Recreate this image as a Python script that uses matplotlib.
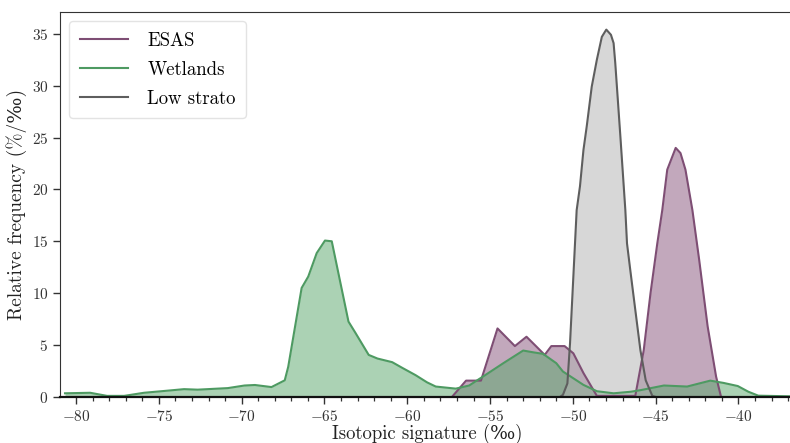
import matplotlib
matplotlib.use("Agg")
from matplotlib import pyplot as plt
from matplotlib.ticker import MultipleLocator

# ESAS distribution
esas_x = [-57.3, -56.45, -55.55, -54.55, -53.5, -52.8, -52.2, -51.7, -51.3, -50.5,
          -49.97, -49.36, -48.55, -46.23, -45.72, -45.31, -44.9, -44.6, -44.3,
          -43.79, -43.5, -43.2, -42.78, -42.37, -41.86, -41.35, -41.05]
esas_y = [0.0, 1.57, 1.57, 6.6, 4.9, 5.8, 4.85, 4.05, 4.9, 4.9,
          4.2, 2.3, 0.1, 0.1, 4.5, 10.0, 14.8, 18.0, 21.9,
          24.0, 23.5, 21.9, 18.0, 13.2, 6.8, 1.96, 0.0]

# Wetlands distribution
wet_x = [-80.67, -79.15, -78.13, -77.1, -75.9, -74.5, -73.48, -72.66, -70.84, -69.83,
         -69.2, -68.2, -67.4, -67.19, -66.38, -65.98, -65.47, -64.97, -64.56, -63.55,
         -63.14, -62.33, -61.8, -60.91, -60.3, -59.5, -58.8, -58.28, -57.07, -56.26,
         -55.2, -54.2, -53.0, -52.4, -51.8, -51.0, -50.6, -49.36, -48.55, -47.54,
         -46.5, -45.92, -44.5, -43.1, -41.7, -40.9, -40.04, -39.4, -38.8, -36.6]
wet_y = [0.35, 0.4, 0.1, 0.1, 0.4, 0.6, 0.75, 0.7, 0.85, 1.1,
         1.15, 0.95, 1.6, 2.9, 10.5, 11.6, 13.86, 15.07, 15.0, 7.26,
         6.2, 4.05, 3.7, 3.35, 2.8, 2.1, 1.4, 1.0, 0.8, 1.1,
         2.2, 3.25, 4.47, 4.3, 4.15, 3.25, 2.45, 1.16, 0.55, 0.35,
         0.5, 0.65, 1.1, 1.0, 1.57, 1.35, 1.05, 0.5, 0.12, 0.05]

# Low stratosphere distribution
strato_x = [-50.78, -50.6, -50.33, -50.17, -49.97, -49.77, -49.57, -49.36, -49.16,
            -48.86, -48.55, -48.25, -47.98, -47.7, -47.54, -47.44, -47.13, -46.83, -46.73,
            -46.53, -46.23, -45.92, -45.6, -45.2, -45.0]
strato_y = [0.0, 0.2, 1.3, 5.2, 11.6, 18.0, 20.3, 23.8, 26.1,
            29.9, 32.5, 34.7, 35.4, 34.9, 34.1, 32.2, 25.1, 18.0, 14.8,
            12.2, 8.4, 4.5, 1.6, 0.1, 0.0]

series = [
    ("ESAS", esas_x, esas_y, "#7e4e74", "#87537b"),
    ("Wetlands", wet_x, wet_y, "#4e9a62", "#59a76b"),
    ("Low strato", strato_x, strato_y, "#5e5e5e", "#b1b1b1"),
]

plt.rcParams["font.family"] = ["cmr10", "DejaVu Serif"]
plt.rcParams["mathtext.fontset"] = "cm"
plt.rcParams["axes.formatter.use_mathtext"] = True
plt.rcParams["axes.unicode_minus"] = True

fig = plt.figure(figsize=(7.9, 4.43), dpi=100)
ax = fig.add_axes([0.076, 0.104, 0.93, 0.869])

for name, xs, ys, lc, fc in series:
    ax.fill_between(xs, ys, color=fc, alpha=0.5, linewidth=0)
    ax.plot(xs, ys, color=lc, linewidth=1.5, label=name)

ax.set_xlim(-80.97, -36.6)
ax.set_ylim(0, 37.1)
ax.xaxis.set_major_locator(MultipleLocator(5))
ax.xaxis.set_minor_locator(MultipleLocator(1))
ax.yaxis.set_major_locator(MultipleLocator(5))
ax.tick_params(axis="both", which="major", direction="out", length=5, width=1,
               labelsize=11, colors="#333333")
ax.tick_params(axis="x", which="minor", direction="out", length=3, width=0.9,
               colors="#333333")
ax.spines["right"].set_visible(False)
for s in ["left", "bottom", "top"]:
    ax.spines[s].set_color("#333333")
ax.spines["bottom"].set_linewidth(1.6)
ax.spines["bottom"].set_color("#111111")

ax.set_xlabel("Isotopic signature (‰)", fontsize=13.5, labelpad=0, color="#222222")
ax.set_ylabel("Relative frequency (%/‰)", fontsize=14, labelpad=3, color="#222222")

leg = ax.legend(loc="upper left", fontsize=13.5, frameon=True, fancybox=True,
                handlelength=2.6, borderpad=0.55, labelspacing=0.6,
                handletextpad=1.0)
leg.get_frame().set_edgecolor("#dddddd")

fig.savefig("out.png", dpi=100)
